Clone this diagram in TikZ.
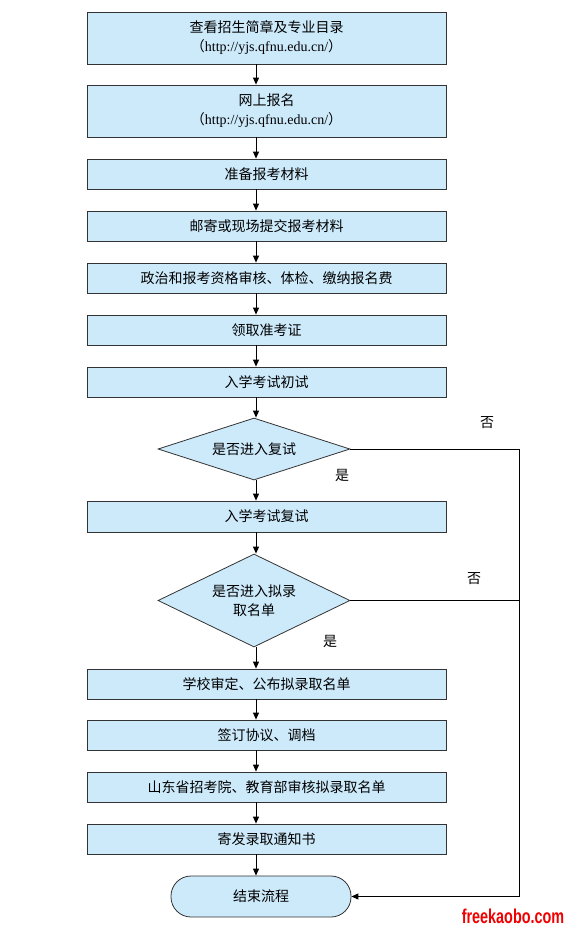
\documentclass[tikz,border=0pt]{standalone}
\usepackage{fontspec}
\setmainfont{Liberation Serif}
\newfontfamily\cjk{Noto Sans CJK SC}
\newfontfamily\wmfont{Liberation Sans}
\usetikzlibrary{shapes.geometric,arrows.meta}
\definecolor{boxfill}{HTML}{CDEAFB}
\definecolor{boxline}{HTML}{333333}
\definecolor{wmred}{HTML}{F00000}
\begin{document}
\begin{tikzpicture}[x=1pt,y=-1pt,
  every node/.style={font=\cjk\fontsize{14}{19}\selectfont, text=black},
  stepbox/.style={draw=boxline, line width=0.8pt, fill=boxfill, rectangle, minimum width=359pt, inner sep=0pt, align=center},
  decide/.style={draw=boxline, line width=0.8pt, fill=boxfill, diamond, aspect=3, minimum width=192pt, inner sep=0pt, align=center},
  termin/.style={draw=boxline, line width=0.8pt, fill=boxfill, rectangle, rounded corners=20pt, minimum width=180pt, minimum height=41pt, inner sep=0pt},
  flow/.style={draw=black, line width=0.9pt, -{Triangle[length=7pt,width=6pt]}},
  plain/.style={draw=black, line width=0.9pt},
  lab/.style={font=\cjk\fontsize{14}{15}\selectfont}
]
\useasboundingbox (0,0) rectangle (567,930);
\def\url{{\rmfamily\fontsize{14}{19}\selectfont{\cjk （}http://yjs.qfnu.edu.cn/{\cjk ）}}}
\node[stepbox, minimum height=52pt] (b1) at (266.5,38) {查看招生简章及专业目录\\ \url};
\node[stepbox, minimum height=52pt] (b2) at (266.5,111) {网上报名\\ \url};
\node[stepbox, minimum height=30pt] (b3) at (266.5,174) {准备报考材料};
\node[stepbox, minimum height=30pt] (b4) at (266.5,226) {邮寄或现场提交报考材料};
\node[stepbox, minimum height=30pt] (b5) at (266.5,278) {政治和报考资格审核、体检、缴纳报名费};
\node[stepbox, minimum height=30pt] (b6) at (266.5,330) {领取准考证};
\node[stepbox, minimum height=30pt] (b7) at (266.5,382) {入学考试初试};
\node[decide, minimum height=62pt] (d1) at (254,449) {是否进入复试};
\node[stepbox, minimum height=31pt] (b8) at (266.5,516.5) {入学考试复试};
\node[decide, minimum height=93pt] (d2) at (254,600.5) {是否进入拟录\\取名单};
\node[stepbox, minimum height=30pt] (b9) at (266.5,684) {学校审定、公布拟录取名单};
\node[stepbox, minimum height=30pt] (b10) at (266.5,735) {签订协议、调档};
\node[stepbox, minimum height=30pt] (b11) at (266.5,787) {山东省招考院、教育部审核拟录取名单};
\node[stepbox, minimum height=30pt] (b12) at (266.5,839) {寄发录取通知书};
\node[termin] (e) at (261,896.5) {结束流程};
\coordinate (ax) at (256,0);
\coordinate (r1) at (519,449);
\coordinate (r2) at (519,600.5);
\coordinate (r3) at (519,896.5);
\draw[flow] (b1.south -| ax) -- (b2.north -| ax);
\draw[flow] (b2.south -| ax) -- (b3.north -| ax);
\draw[flow] (b3.south -| ax) -- (b4.north -| ax);
\draw[flow] (b4.south -| ax) -- (b5.north -| ax);
\draw[flow] (b5.south -| ax) -- (b6.north -| ax);
\draw[flow] (b6.south -| ax) -- (b7.north -| ax);
\draw[flow] (b7.south -| ax) -- (d1.north -| ax);
\draw[flow] (d1.south -| ax) -- (b8.north -| ax);
\draw[flow] (b8.south -| ax) -- (d2.north -| ax);
\draw[flow] (d2.south -| ax) -- (b9.north -| ax);
\draw[flow] (b9.south -| ax) -- (b10.north -| ax);
\draw[flow] (b10.south -| ax) -- (b11.north -| ax);
\draw[flow] (b11.south -| ax) -- (b12.north -| ax);
\draw[flow] (b12.south -| ax) -- (e.north -| ax);
\draw[plain] (d1.east) -- (r1) -- (r3);
\draw[plain] (d2.east) -- (r2);
\draw[flow] (r3) -- (e.east);
\node[lab] (n1) at (487,423) {否};
\node[lab] (y1) at (342,475) {是};
\node[lab] (n2) at (474,579) {否};
\node[lab] (y2) at (330,641) {是};
\node[font=\wmfont\bfseries\fontsize{20}{20}\selectfont, text=wmred, xscale=0.72] (wm) at (513,916) {freekaobo.com};
\end{tikzpicture}
\end{document}
